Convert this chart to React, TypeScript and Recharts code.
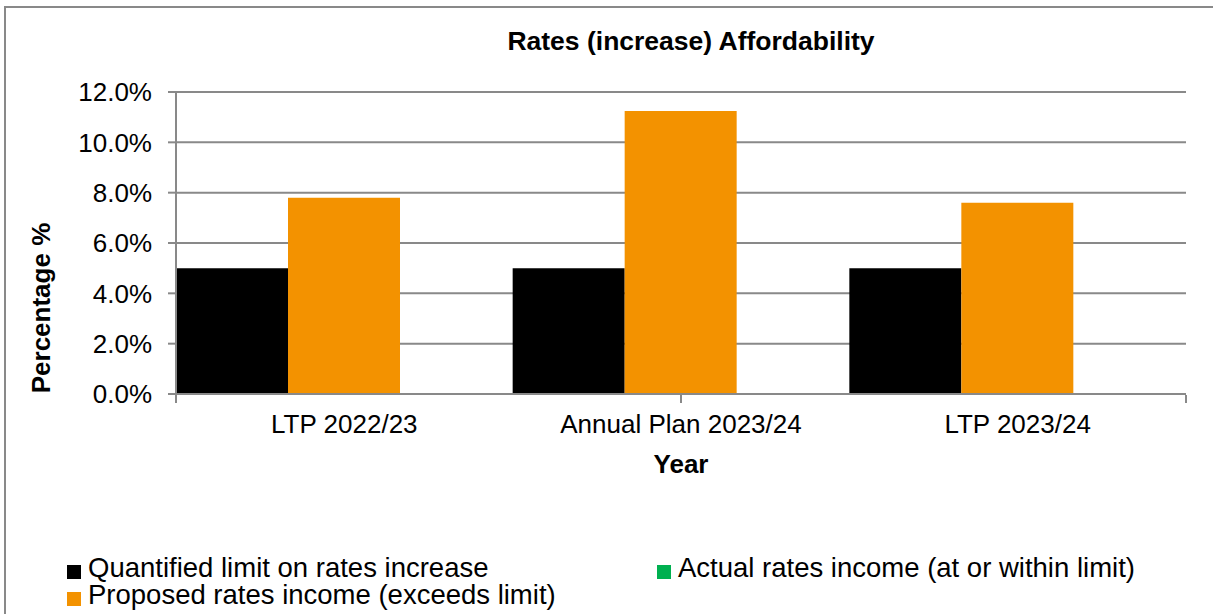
import { BarChart, Bar, XAxis, YAxis, CartesianGrid, Legend } from 'recharts';

const categories = ['LTP 2022/23', 'Annual Plan 2023/24', 'LTP 2023/24'];
const limitValues = [5.0, 5.0, 5.0];
const proposedValues = [7.8, 11.25, 7.6];
const actualValues: (number | null)[] = [null, null, null];
const yTicks = [0, 2, 4, 6, 8, 10, 12];
const edgeTicks = [0, 1, 2, 3];

const seriesNames = {
  limit: 'Quantified limit on rates increase',
  actual: 'Actual rates income (at or within limit)',
  proposed: 'Proposed rates income (exceeds limit)',
};
const COLORS = { limit: '#000000', actual: '#00B050', proposed: '#F39200' };
const GRID = '#898989';
const FONT = '"Liberation Sans", Arial, sans-serif';

const chartData = categories.map((name, i) => ({
  name,
  limit: limitValues[i],
  proposed: proposedValues[i],
  actual: actualValues[i],
}));

const LegendBox = () => {
  const items: (keyof typeof COLORS)[] = ['limit', 'actual', 'proposed'];
  return (
    <div
      style={{
        display: 'grid',
        gridTemplateColumns: '590px auto',
        paddingLeft: 67,
        fontFamily: FONT,
        fontSize: 27.5,
        lineHeight: '27px',
        color: '#000',
        whiteSpace: 'nowrap',
      }}
    >
      {items.map((k) => (
        <div key={k} style={{ display: 'flex', alignItems: 'flex-start', height: 27 }}>
          <span style={{ width: 14, height: 14, marginTop: 11, marginRight: 7, background: COLORS[k], flex: 'none' }} />
          <span style={{ lineHeight: '27px', display: 'block', height: 27 }}>{seriesNames[k]}</span>
        </div>
      ))}
    </div>
  );
};

export default function App() {
  return (
    <div
      style={{
        position: 'absolute',
        left: 0,
        top: 0,
        width: 1213,
        height: 614,
        overflow: 'hidden',
        background: '#fff',
        fontFamily: FONT,
      }}
    >
      <div
        style={{
          position: 'absolute',
          left: 4,
          top: 6,
          width: 1300,
          height: 800,
          border: `2px solid ${GRID}`,
        }}
      />
      <div
        style={{
          position: 'absolute',
          left: 0,
          width: 1382,
          top: 27.5,
          textAlign: 'center',
          fontSize: 26.5,
          fontWeight: 'bold',
          lineHeight: 1,
          color: '#000',
        }}
      >
        Rates (increase) Affordability
      </div>
      <div style={{ position: 'absolute', left: 0, top: 0 }}>
        <BarChart
          width={1213}
          height={614}
          data={chartData}
          margin={{ top: 92, right: 27, left: 0, bottom: 218 }}
          barCategoryGap={0}
          barGap={0}
        >
          <CartesianGrid vertical={false} stroke={GRID} strokeWidth={2} xAxisId="cat" />
          <XAxis
            xAxisId="edge"
            type="number"
            domain={[0, categories.length]}
            ticks={edgeTicks}
            interval={0}
            height={1}
            axisLine={false}
            tickSize={8}
            tickLine={{ stroke: GRID, strokeWidth: 2 }}
            tickFormatter={() => ''}
          />
          <XAxis
            xAxisId="cat"
            dataKey="name"
            height={1}
            interval={0}
            axisLine={{ stroke: GRID, strokeWidth: 2 }}
            tickLine={false}
            tickSize={6}
            tickMargin={15}
            tick={{ fontSize: 26, fill: '#000', fontFamily: FONT }}
            label={{ value: 'Year', position: 'insideTop', offset: 61, fontSize: 26, fontWeight: 'bold', fill: '#000', fontFamily: FONT }}
          />
          <YAxis
            width={176}
            domain={[0, 12]}
            ticks={yTicks}
            interval={0}
            tickSize={8}
            tickMargin={16}
            axisLine={{ stroke: GRID, strokeWidth: 2 }}
            tickLine={{ stroke: GRID, strokeWidth: 2 }}
            tick={{ fontSize: 26, fill: '#000', fontFamily: FONT }}
            tickFormatter={(v: number) => `${v.toFixed(1)}%`}
            label={{
              value: 'Percentage %',
              angle: -90,
              position: 'center',
              dx: -47,
              dy: 65,
              fontSize: 26,
              fontWeight: 'bold',
              fill: '#000',
              fontFamily: FONT,
            }}
          />
          <Legend
            layout="horizontal"
            verticalAlign="middle"
            content={() => <LegendBox />}
            wrapperStyle={{ position: 'absolute', left: 0, top: 554, width: 1213 }}
          />
          <Bar xAxisId="cat" dataKey="limit" name={seriesNames.limit} fill={COLORS.limit} isAnimationActive={false} />
          <Bar xAxisId="cat" dataKey="proposed" name={seriesNames.proposed} fill={COLORS.proposed} isAnimationActive={false} />
          <Bar xAxisId="cat" dataKey="actual" name={seriesNames.actual} fill={COLORS.actual} isAnimationActive={false} />
        </BarChart>
      </div>
    </div>
  );
}
